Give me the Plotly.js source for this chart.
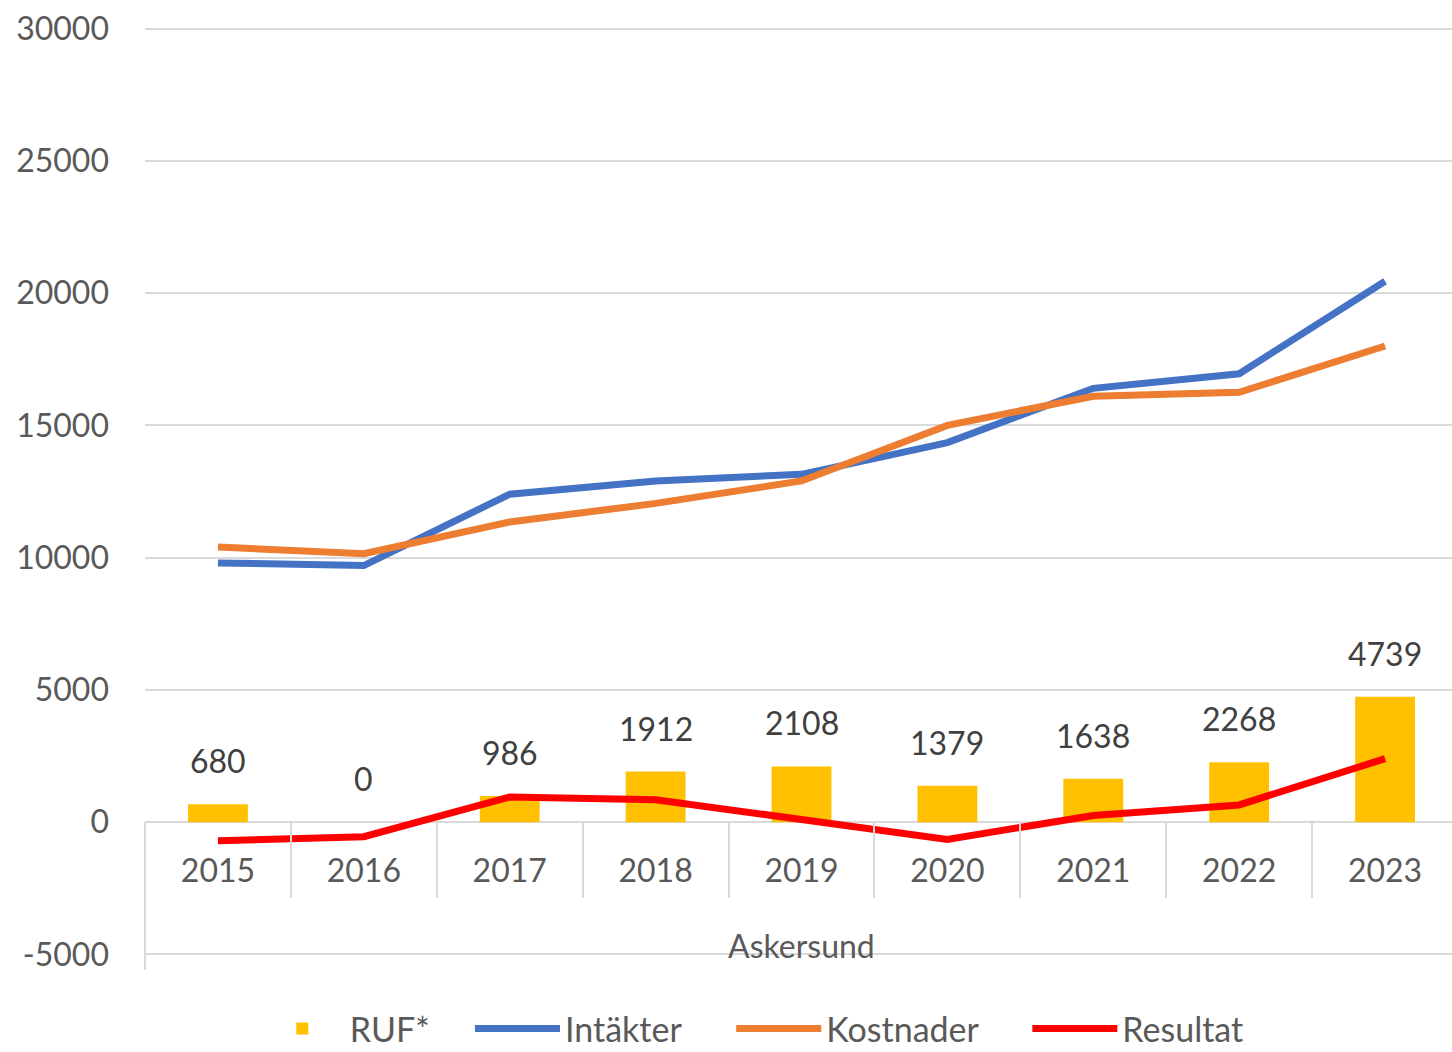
<!DOCTYPE html>
<html>
<head>
<meta charset="utf-8">
<script src="https://cdn.plot.ly/plotly-3.0.1.min.js"></script>
<style>
  html, body { margin: 0; padding: 0; overflow: hidden; background: #ffffff; }
  #chart { width: 1458px; height: 1052px; }
</style>
</head>
<body>
<div id="chart"></div>
<script>
// ---- Data ----
const years = ['2015', '2016', '2017', '2018', '2019', '2020', '2021', '2022', '2023'];
const groupLabel = 'Askersund';
const rufValues = [680, 0, 986, 1912, 2108, 1379, 1638, 2268, 4739];
const intakter = [9800, 9700, 12400, 12900, 13150, 14350, 16400, 16950, 20450];
const kostnader = [10400, 10150, 11350, 12050, 12900, 15000, 16100, 16250, 18000];
const resultat = [-700, -550, 950, 850, 100, -650, 250, 650, 2400];
const yTickVals = [-5000, 0, 5000, 10000, 15000, 20000, 25000, 30000];
const yTickText = ['-5000', '0', '5000', '10000', '15000', '20000', '25000', '30000'];
const seriesNames = ['RUF*', 'Intäkter', 'Kostnader', 'Resultat'];

// ---- Styles ----
const FONT = 'Lato, "Open Sans", sans-serif';
const GRID = '#d9d9d9';
const TXT = '#595959';
const legendX = [0.0836, 0.2475, 0.4465, 0.672];

const traces = [
  {
    type: 'bar', name: seriesNames[0], x: years, y: rufValues,
    marker: { color: '#FFC000' }, width: 0.41, legend: 'legend'
  },
  {
    type: 'scatter', mode: 'lines', name: seriesNames[1], x: years, y: intakter,
    line: { color: '#4472C4', width: 7 }, legend: 'legend2'
  },
  {
    type: 'scatter', mode: 'lines', name: seriesNames[2], x: years, y: kostnader,
    line: { color: '#ED7D31', width: 7 }, legend: 'legend3'
  },
  {
    type: 'scatter', mode: 'lines', name: seriesNames[3], x: years, y: resultat,
    line: { color: '#FF0000', width: 7 }, legend: 'legend4'
  }
];

const yMin = yTickVals[0], yMax = yTickVals[yTickVals.length - 1];
const pad = 60;
const zeroFrac = (0 - (yMin - pad)) / (yMax - yMin + 2 * pad);

const barLabels = rufValues.map((v, i) => ({
  x: i, y: v, xref: 'x', yref: 'y', text: String(v),
  showarrow: false, yanchor: 'bottom', yshift: 22,
  font: { family: FONT, size: 32, color: '#404040' }
}));

function legendBox(x) {
  return {
    orientation: 'h', x: x, xanchor: 'left',
    yref: 'container', y: 0.022, yanchor: 'middle',
    font: { family: FONT, size: 34, color: TXT },
    itemwidth: 85, bgcolor: 'rgba(0,0,0,0)', borderwidth: 0
  };
}

const layout = {
  width: 1458, height: 1052,
  margin: { l: 145, r: 0, t: 27, b: 96 },
  paper_bgcolor: '#ffffff', plot_bgcolor: '#ffffff',
  font: { family: FONT, size: 32, color: TXT },
  showlegend: true,
  xaxis: {
    type: 'category',
    categoryorder: 'array', categoryarray: years,
    range: [-0.5, years.length - 0.5],
    anchor: 'free', position: zeroFrac,
    showgrid: false, zeroline: false,
    showline: false,
    ticks: 'outside', tickson: 'boundaries', ticklen: 75,
    tickcolor: GRID, tickwidth: 2,
    ticklabelstandoff: 27,
    tickangle: 0,
    tickfont: { family: FONT, size: 32, color: TXT },
    fixedrange: true
  },
  yaxis: {
    range: [yMin - pad, yMax + pad],
    tickvals: yTickVals, ticktext: yTickText,
    showgrid: true, gridcolor: GRID, gridwidth: 2,
    zeroline: true, zerolinecolor: GRID, zerolinewidth: 2,
    showline: false, ticks: '',
    ticklabelstandoff: 35,
    tickfont: { family: FONT, size: 32, color: TXT },
    fixedrange: true
  },
  legend: legendBox(legendX[0]),
  legend2: legendBox(legendX[1]),
  legend3: legendBox(legendX[2]),
  legend4: legendBox(legendX[3]),
  shapes: [
    {
      type: 'line', xref: 'x domain', yref: 'paper',
      x0: 0, x1: 0, y0: zeroFrac, y1: -0.0151,
      line: { color: GRID, width: 2 }, layer: 'below'
    }
  ],
  annotations: barLabels.concat([
    {
      text: groupLabel, xref: 'paper', yref: 'paper', x: 0.5, y: 0.0108,
      xanchor: 'center', yanchor: 'middle', showarrow: false,
      font: { family: FONT, size: 32, color: TXT }
    }
  ])
};

Plotly.newPlot('chart', traces, layout, { displayModeBar: false, staticPlot: true });
</script>
</body>
</html>
